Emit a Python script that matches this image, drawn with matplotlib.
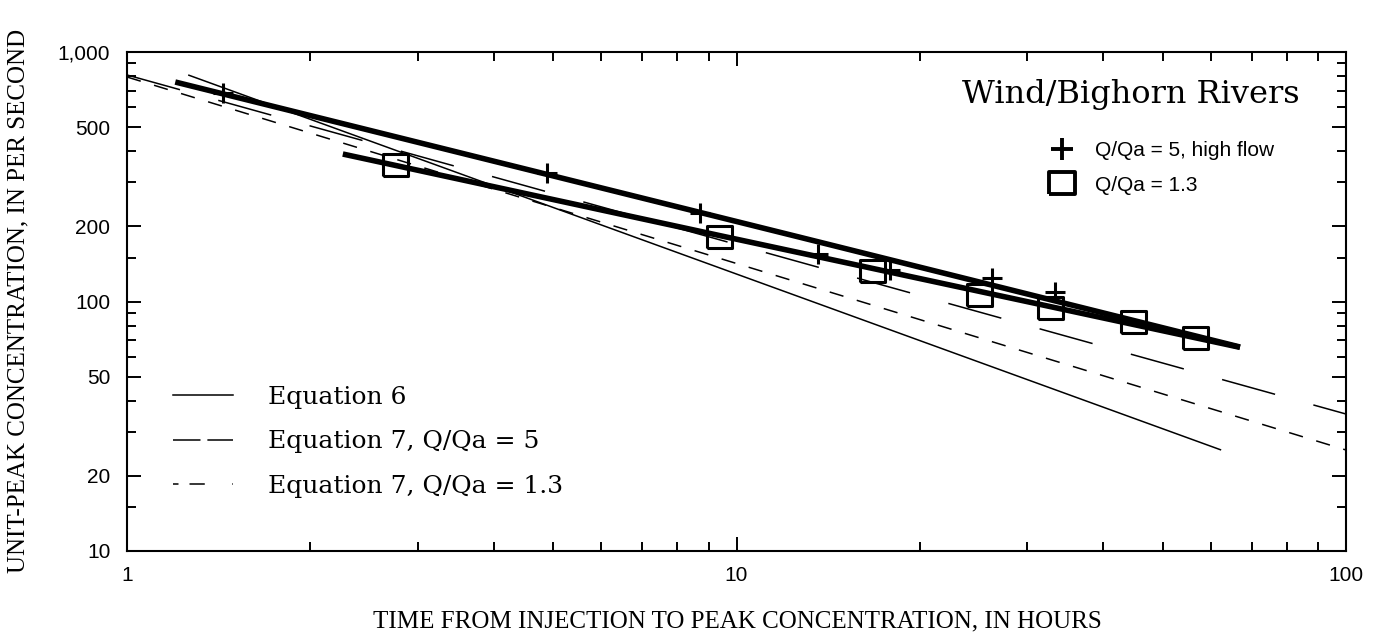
import matplotlib
matplotlib.use("Agg")
import matplotlib.pyplot as plt
from matplotlib.lines import Line2D
from matplotlib.ticker import FixedLocator, FixedFormatter, NullFormatter

# ---------------- data ----------------
eq6_x = [1.26, 62.4]
eq6_y = [809, 25.4]
eq7_q5_x = [1.0, 100]
eq7_q5_y = [809, 35.4]
eq7_q13_x = [1.0, 100]
eq7_q13_y = [794, 25.4]

fit_q5_x = [1.2, 12.7, 67]
fit_q5_y = [758, 181, 65.7]
fit_q13_x = [2.26, 9.36, 67]
fit_q13_y = [390, 184, 65.5]

obs_q5_x = [1.437, 4.89, 8.71, 13.6, 17.86, 26.25, 33.3]
obs_q5_y = [685, 327, 226, 155, 134, 124, 109]
obs_q13_x = [2.753, 9.36, 16.69, 25.0, 32.7, 44.7, 56.5]
obs_q13_y = [352, 181, 132, 106, 94.2, 82.8, 71.4]

y_major = [10, 20, 50, 100, 200, 500, 1000]
y_major_labels = ["10", "20", "50", "100", "200", "500", "1,000"]
y_minor = [15, 30, 40, 60, 70, 80, 90, 150, 300, 400, 600, 700, 800, 900]
x_major = [1, 10, 100]
x_major_labels = ["1", "10", "100"]
x_minor = [2, 3, 4, 5, 6, 7, 8, 9, 20, 30, 40, 50, 60, 70, 80, 90]

# ---------------- figure ----------------
W, H = 1381, 637
fig = plt.figure(figsize=(W / 100, H / 100), dpi=100)
ax = fig.add_axes([127 / W, 1 - 551 / H, 1219 / W, 499 / H])
ax.set_xscale("log")
ax.set_yscale("log")
ax.set_xlim(1, 100)
ax.set_ylim(10, 1000)

thin = 1.1
LONG = (36, 26)
SHORT = (9.4, 9.1)

ax.plot(eq6_x, eq6_y, color="black", lw=thin, solid_capstyle="butt")
ax.plot(eq7_q5_x, eq7_q5_y, color="black", lw=thin, dashes=LONG)
ax.plot(eq7_q13_x, eq7_q13_y, color="black", lw=thin, dashes=SHORT)

ax.plot(fit_q5_x, fit_q5_y, color="black", lw=4.0, solid_capstyle="butt")
ax.plot(fit_q13_x, fit_q13_y, color="black", lw=4.0, solid_capstyle="butt")

rect = [(-1.15, -1), (1.15, -1), (1.15, 1), (-1.15, 1), (-1.15, -1)]
ax.plot(obs_q5_x, obs_q5_y, ls="none", marker="+", ms=14, mew=2.2, color="black")
ax.plot(obs_q13_x, obs_q13_y, ls="none", marker=rect, ms=18, mew=2.2,
        mfc="none", mec="black")

# ---------------- axes styling ----------------
for s in ax.spines.values():
    s.set_linewidth(1.5)
ax.xaxis.set_major_locator(FixedLocator(x_major))
ax.xaxis.set_major_formatter(FixedFormatter(x_major_labels))
ax.xaxis.set_minor_locator(FixedLocator(x_minor))
ax.xaxis.set_minor_formatter(NullFormatter())
ax.yaxis.set_major_locator(FixedLocator(y_major))
ax.yaxis.set_major_formatter(FixedFormatter(y_major_labels))
ax.yaxis.set_minor_locator(FixedLocator(y_minor))
ax.yaxis.set_minor_formatter(NullFormatter())
ax.tick_params(which="both", direction="in", top=True, right=True, width=1.4,
               colors="black")
ax.tick_params(which="major", length=10)
ax.tick_params(which="minor", length=6.5)
ax.tick_params(axis="y", which="major", pad=12)
ax.tick_params(axis="x", which="major", pad=11)
for lab in ax.get_xticklabels() + ax.get_yticklabels():
    lab.set_fontfamily("Liberation Sans")
    lab.set_fontsize(15)

fig.text(18 / W, 1 - 301 / H, "UNIT-PEAK CONCENTRATION, IN PER SECOND",
         rotation=90, ha="center", va="center", family="Liberation Serif",
         fontsize=18)
fig.text(737 / W, 1 - 621 / H, "TIME FROM INJECTION TO PEAK CONCENTRATION, IN HOURS",
         ha="center", va="center", family="Liberation Serif", fontsize=18)

# ---------------- legends ----------------
h1 = [
    Line2D([], [], color="black", lw=thin),
    Line2D([], [], color="black", lw=thin, dashes=(18, 4.5)),
    Line2D([], [], color="black", lw=thin, dashes=(3.6, 7.2, 10, 18, 4.3, 20)),
]
l1 = ["Equation 6", "Equation 7, Q/Qa = 5", "Equation 7, Q/Qa = 1.3"]
leg1 = ax.legend(h1, l1, loc="upper left", bbox_to_anchor=(173 / W, 1 - 386 / H),
                 bbox_transform=fig.transFigure, frameon=False, borderpad=0,
                 borderaxespad=0, handlelength=2.4, handletextpad=1.4,
                 labelspacing=0.85, prop={"family": "DejaVu Serif", "size": 18})
ax.add_artist(leg1)

ax.text(1300 / W, 1 - 95 / H, "Wind/Bighorn Rivers", transform=fig.transFigure,
        ha="right", va="center", family="DejaVu Serif", fontsize=23)

h2 = [
    Line2D([], [], ls="none", marker="+", ms=16, mew=2.8, color="black"),
    Line2D([], [], ls="none", marker=rect, ms=19, mew=2.8, mfc="none", mec="black"),
]
l2 = ["Q/Qa = 5, high flow", "Q/Qa = 1.3"]
leg2 = ax.legend(h2, l2, loc="upper left", bbox_to_anchor=(1045 / W, 1 - 141 / H),
                 bbox_transform=fig.transFigure, frameon=False, borderpad=0,
                 borderaxespad=0, handlelength=1.6, handletextpad=0.8,
                 labelspacing=0.75, prop={"family": "Liberation Sans", "size": 15})

fig.savefig("out.png", dpi=100, facecolor="white")
